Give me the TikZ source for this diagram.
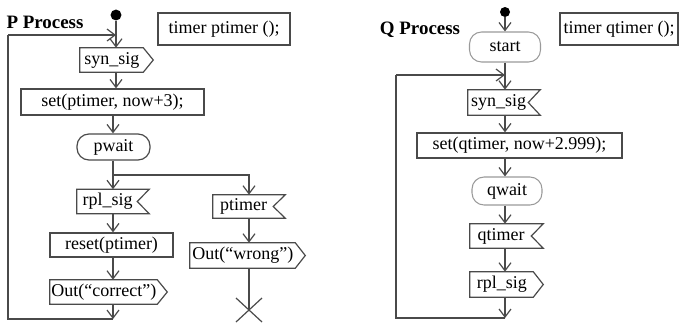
\documentclass[tikz,border=0pt]{standalone}
\usepackage{fontspec}
\setmainfont{Liberation Serif}
\usetikzlibrary{arrows.meta}
\definecolor{ln}{HTML}{4A4A4A}
\definecolor{lg}{HTML}{9A9A9A}
\tikzset{
  base/.style={inner sep=0pt, font=\fontsize{13.5}{15}\selectfont, text=black},
  sz/.style 2 args={minimum width=#1*0.75pt, minimum height=#2*0.75pt},
  box/.style={base, draw=ln, line width=0.9pt, rectangle},
  rbox/.style={base, draw=ln, line width=0.9pt, rectangle, rounded corners=9pt},
  gbox/.style={base, draw=lg, line width=0.8pt, rectangle, rounded corners=9pt},
  sig/.style={base, rectangle},
  outline/.style={draw=ln, line width=0.9pt, line join=miter},
  dot/.style={circle, fill=black, inner sep=0pt, minimum size=8.2pt},
  title/.style={base, font=\fontsize{14.2}{16}\selectfont\bfseries},
  conn/.style={draw=ln, line width=0.9pt},
  arr/.style={conn, -{Straight Barb[length=6pt, width=9pt]}},
}
\newcommand\outsigline[1]{\draw[outline] (#1.north west) -- ([xshift=-7.5pt]#1.north east)
     -- (#1.east) -- ([xshift=-7.5pt]#1.south east) -- (#1.south west) -- cycle;}
\newcommand\insigline[1]{\draw[outline] (#1.north west) -- (#1.north east)
     -- ([xshift=-9pt]#1.east) -- (#1.south east) -- (#1.south west) -- cycle;}
\begin{document}
\begin{tikzpicture}[x=0.75pt, y=-0.75pt]
\useasboundingbox (0,0) rectangle (679,322);
% ---------------- P process ----------------
\node[title] (titleP) at (45,22) {P Process};
\node[dot] (dotP) at (116,15) {};
\node[box, sz={132}{32}] (timerP) at (224,29) {timer ptimer ();};
\node[sig, sz={73}{24}] (synP) at (116.5,60) {syn\_sig\kern7pt};
\node[box, sz={183}{26}] (setP) at (112.5,102) {set(ptimer, now+3);};
\node[rbox, sz={73}{26}] (pwait) at (113.5,147) {pwait};
\node[sig, sz={72}{24}] (rplP) at (113,201.5) {rpl\_sig\kern8pt};
\node[sig, sz={72}{23}] (ptimerP) at (249,206.5) {ptimer\kern8pt};
\node[box, sz={123}{24}] (resetP) at (111.5,245) {reset(ptimer)};
\node[sig, sz={117}{24}] (outcP) at (108.5,292) {Out(“correct”)\kern7pt};
\node[sig, sz={115}{25}] (outwP) at (247.5,255.5) {Out(“wrong”)\kern7pt};
\outsigline{synP}
\insigline{rplP}
\insigline{ptimerP}
\outsigline{outcP}
\outsigline{outwP}
\coordinate (brP) at (113,175);
\coordinate (endX) at (249,310);
\coordinate (botP) at (113,319);
\coordinate (blP) at (8,319);
\coordinate (tlP) at (8,35);
\coordinate (inP) at (116,35);
\draw[arr] (dotP) -- (dotP |- synP.north);
\draw[arr] (tlP) -- (inP);
\draw[arr] (synP.south -| dotP) -- (dotP |- setP.north);
\draw[arr] (setP.south -| brP) -- (brP |- pwait.north);
\draw[conn] (pwait.south -| brP) -- (brP);
\draw[arr] (brP) -- (brP |- rplP.north);
\draw[arr] (brP) -| (ptimerP.north -| endX);
\draw[arr] (rplP.south -| brP) -- (brP |- resetP.north);
\draw[arr] (resetP.south -| brP) -- (brP |- outcP.north);
\draw[arr] (outcP.south -| brP) -- (botP);
\draw[conn] (botP) -- (blP) -- (tlP);
\draw[arr] (ptimerP.south -| endX) -- (endX |- outwP.north);
\draw[conn] (outwP.south -| endX) -- (endX);
\draw[conn] ([shift={(-13,-12)}]endX) -- ([shift={(13,12)}]endX);
\draw[conn] ([shift={(13,-12)}]endX) -- ([shift={(-13,12)}]endX);
% ---------------- Q process ----------------
\node[title] (titleQ) at (420,30) {Q Process};
\node[dot, minimum size=7.5pt] (dotQ) at (505,12) {};
\node[box, sz={118}{32}] (timerQ) at (619,29) {timer qtimer ();};
\node[gbox, sz={71}{30}] (startQ) at (505,47) {start};
\node[sig, sz={72}{25}] (synQ) at (504,102.5) {syn\_sig\kern8pt};
\node[box, sz={205}{25}] (setQ) at (519.5,145.5) {set(qtimer, now+2.999);};
\node[gbox, sz={70}{28}] (qwait) at (507,191) {qwait};
\node[sig, sz={73}{24}] (qtimer) at (506.5,236) {qtimer\kern8pt};
\node[sig, sz={73}{25}] (rplQ) at (506.5,284.5) {rpl\_sig\kern7pt};
\insigline{synQ}
\insigline{qtimer}
\outsigline{rplQ}
\coordinate (axQ) at (505,0);
\coordinate (botQ) at (505,318);
\coordinate (blQ) at (396,318);
\coordinate (tlQ) at (396,75);
\coordinate (inQ) at (505,75);
\draw[arr] (dotQ) -- (dotQ |- startQ.north);
\draw[conn] (startQ.south -| axQ) -- (inQ);
\draw[arr] (tlQ) -- (inQ);
\draw[arr] (inQ) -- (axQ |- synQ.north);
\draw[arr] (synQ.south -| axQ) -- (axQ |- setQ.north);
\draw[arr] (setQ.south -| axQ) -- (axQ |- qwait.north);
\draw[arr] (qwait.south -| axQ) -- (axQ |- qtimer.north);
\draw[arr] (qtimer.south -| axQ) -- (axQ |- rplQ.north);
\draw[arr] (rplQ.south -| axQ) -- (botQ);
\draw[conn] (botQ) -- (blQ) -- (tlQ);
\end{tikzpicture}
\end{document}
